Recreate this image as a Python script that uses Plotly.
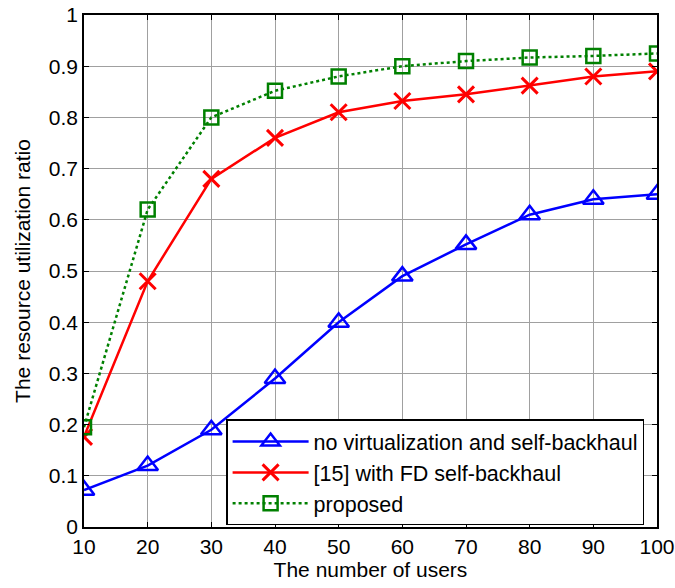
import plotly.graph_objects as go

users = [10, 20, 30, 40, 50, 60, 70, 80, 90, 100]
no_virt = [0.072, 0.12, 0.19, 0.29, 0.40, 0.49, 0.552, 0.61, 0.64, 0.65]
fd_backhaul = [0.176, 0.48, 0.68, 0.76, 0.81, 0.832, 0.845, 0.862, 0.88, 0.89]
proposed = [0.195, 0.62, 0.80, 0.852, 0.88, 0.90, 0.91, 0.917, 0.92, 0.925]

names = ["no virtualization and self-backhaul", "[15] with FD self-backhaul", "proposed"]

fig = go.Figure()
fig.add_trace(go.Scatter(x=users, y=no_virt, name=names[0], mode="lines+markers",
                         line=dict(color="#0000ff", width=2.5),
                         marker=dict(symbol="triangle-up-open", size=18, color="#0000ff",
                                     line=dict(width=2.5, color="#0000ff"))))
fig.add_trace(go.Scatter(x=users, y=fd_backhaul, name=names[1], mode="lines+markers",
                         line=dict(color="#ff0000", width=2.5),
                         marker=dict(symbol="x-thin-open", size=16, color="#ff0000",
                                     line=dict(width=3, color="#ff0000"))))
fig.add_trace(go.Scatter(x=users, y=proposed, name=names[2], mode="lines+markers",
                         line=dict(color="#008000", width=2.5, dash="dot"),
                         marker=dict(symbol="square-open", size=14, color="#008000",
                                     line=dict(width=2.5, color="#008000"))))

axis_common = dict(showgrid=True, gridcolor="#a0a0a0", gridwidth=1,
                   showline=True, linecolor="black", linewidth=1.5, mirror="ticks",
                   ticks="inside", ticklen=5, tickcolor="black",
                   tickfont=dict(family="Liberation Sans, Arial", size=21, color="black"),
                   zeroline=False, automargin=False)

fig.update_layout(
    width=675, height=588,
    margin=dict(l=84, r=18, t=15, b=61),
    plot_bgcolor="white", paper_bgcolor="white",
    font=dict(family="Liberation Sans, Arial", size=21, color="black"),
    xaxis=dict(range=[10, 100], tickvals=users, title=dict(text="The number of users", standoff=5,
               font=dict(size=21)), **axis_common),
    yaxis=dict(range=[0, 1], dtick=0.1, tickformat="~g",
               title=dict(text="The resource utilization ratio", standoff=12, font=dict(size=21)),
               **axis_common),
    legend=dict(x=0.248, y=0.21, xanchor="left", yanchor="top",
                bordercolor="black", borderwidth=1.5, bgcolor="white",
                font=dict(size=21.5), itemwidth=76, tracegroupgap=0),
    showlegend=True,
)

fig.write_html("out.html")
